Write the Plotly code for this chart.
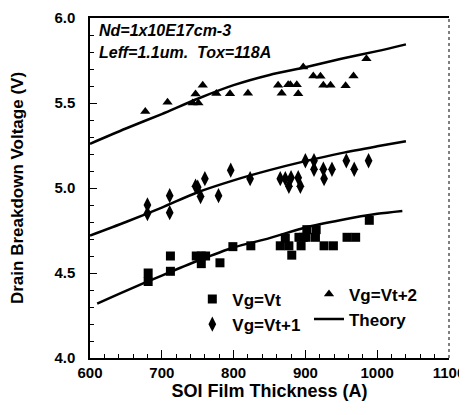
import plotly.graph_objects as go

# ---- data ----
vt_x = [681, 681, 712, 712, 748, 755, 761, 755, 781, 799, 824, 865, 872, 877, 881, 891, 894, 897, 901, 902, 914, 915, 926, 939, 958, 970, 989]
vt_y = [4.50, 4.45, 4.60, 4.51, 4.60, 4.60, 4.60, 4.555, 4.56, 4.655, 4.66, 4.66, 4.705, 4.66, 4.605, 4.71, 4.66, 4.71, 4.71, 4.755, 4.71, 4.755, 4.66, 4.66, 4.71, 4.71, 4.81]

vt1_x = [680, 680, 711, 711, 747, 750, 760, 754, 779, 796, 823, 865, 872, 877, 880, 890, 893, 900, 912, 912, 925, 926, 937, 957, 968, 988]
vt1_y = [4.90, 4.85, 4.955, 4.855, 5.01, 5.005, 5.055, 4.95, 4.955, 5.105, 5.055, 5.055, 5.055, 5.01, 5.06, 5.06, 5.01, 5.16, 5.16, 5.11, 5.11, 5.055, 5.11, 5.16, 5.11, 5.16]

vt2_x = [677, 708, 743, 751, 747, 757, 776, 795, 820, 862, 867, 876, 879, 888, 890, 897, 911, 921, 925, 935, 956, 967, 985]
vt2_y = [5.45, 5.505, 5.50, 5.50, 5.553, 5.605, 5.556, 5.554, 5.557, 5.605, 5.558, 5.608, 5.608, 5.608, 5.555, 5.712, 5.659, 5.658, 5.605, 5.604, 5.602, 5.659, 5.761]

th_x = [600, 650, 700, 750, 800, 850, 900, 950, 1000, 1040]
th_top = [5.26, 5.35, 5.435, 5.525, 5.605, 5.665, 5.71, 5.76, 5.805, 5.845]
th_mid = [4.72, 4.80, 4.885, 4.975, 5.045, 5.105, 5.158, 5.205, 5.245, 5.275]
th_bot_x = [610, 650, 700, 750, 800, 850, 900, 950, 1000, 1035]
th_bot = [4.32, 4.395, 4.485, 4.572, 4.65, 4.705, 4.768, 4.812, 4.848, 4.865]

x_ticks = [600, 700, 800, 900, 1000, 1100]
y_ticks = [4.0, 4.5, 5.0, 5.5, 6.0]

FONT = "Liberation Sans, Arial, sans-serif"
LEG_FONT = dict(family=FONT, size=17, color="black")

fig = go.Figure()
fig.add_trace(go.Scatter(x=vt_x, y=vt_y, mode="markers", name="<b>Vg=Vt</b>",
                         marker=dict(symbol="square", size=9, color="black"), legend="legend"))
fig.add_trace(go.Scatter(x=vt1_x, y=vt1_y, mode="markers", name="<b>Vg=Vt+1</b>",
                         marker=dict(symbol="diamond-tall", size=11, color="black"), legend="legend"))
fig.add_trace(go.Scatter(x=vt2_x, y=vt2_y, mode="markers", name="<b>Vg=Vt+2</b>",
                         marker=dict(symbol="triangle-up", size=9, color="black"), legend="legend2"))
fig.add_trace(go.Scatter(x=th_x, y=th_top, mode="lines", name="<b>Theory</b>",
                         line=dict(color="black", width=2.5, shape="spline", smoothing=0.8), legend="legend2"))
fig.add_trace(go.Scatter(x=th_x, y=th_mid, mode="lines", name="Theory", showlegend=False,
                         line=dict(color="black", width=2.5, shape="spline", smoothing=0.8)))
fig.add_trace(go.Scatter(x=th_bot_x, y=th_bot, mode="lines", name="Theory", showlegend=False,
                         line=dict(color="black", width=2.5, shape="spline", smoothing=0.8)))

# the page body has an 8px margin, so the figure is sized to fit the window from (8, 8)
fig.update_layout(
    width=459, height=407,
    margin=dict(l=82, r=18, t=10, b=57, autoexpand=False),
    paper_bgcolor="white", plot_bgcolor="white",
    font=dict(family=FONT, color="black"),
    legend=dict(x=0.285, y=0.225, xanchor="left", yanchor="top", bgcolor="rgba(0,0,0,0)",
                font=LEG_FONT, tracegroupgap=0),
    legend2=dict(x=0.61, y=0.24, xanchor="left", yanchor="top", bgcolor="rgba(0,0,0,0)",
                 font=LEG_FONT, tracegroupgap=0),
    xaxis=dict(range=[600, 1100], tickvals=x_ticks, ticktext=[f"<b>{v}</b>" for v in x_ticks],
               ticks="inside", ticklen=8, tickwidth=1, tickcolor="black",
               minor=dict(dtick=20, ticks="inside", ticklen=4, tickcolor="black"),
               showline=True, linecolor="black", linewidth=1.5, mirror=True,
               showgrid=False, zeroline=False, automargin=False, ticklabeloverflow="allow",
               tickfont=dict(family=FONT, size=15, color="black"),
               title=dict(text="<b>SOI Film Thickness (A)</b>", font=dict(family=FONT, size=18, color="black"),
                          standoff=4)),
    yaxis=dict(range=[4.0, 6.0], tickvals=y_ticks, ticktext=[f"<b>{v:.1f}</b>" for v in y_ticks],
               ticks="inside", ticklen=7, tickwidth=1, tickcolor="black",
               minor=dict(dtick=0.1, ticks="inside", ticklen=4, tickcolor="black"),
               showline=True, linecolor="black", linewidth=1.5,
               showgrid=False, zeroline=False, ticklabelstandoff=10, automargin=False,
               ticklabeloverflow="allow",
               tickfont=dict(family=FONT, size=15, color="black"),
               title=dict(text="<b>Drain Breakdown Voltage (V)</b>", font=dict(family=FONT, size=17, color="black"),
                          standoff=30)),
    showlegend=True,
)

fig.add_shape(type="line", xref="paper", yref="paper", x0=1, x1=1, y0=0, y1=1,
              line=dict(color="black", width=1, dash="dot"))

fig.add_annotation(text="<b><i>Nd=1x10E17cm-3</i></b>", xref="paper", yref="paper",
                   x=0.02, y=0.962, xanchor="left", yanchor="middle", showarrow=False,
                   font=dict(family=FONT, size=16, color="black"))
fig.add_annotation(text="<b><i>Leff=1.1um.&nbsp;&nbsp;Tox=118A</i></b>", xref="paper", yref="paper",
                   x=0.02, y=0.898, xanchor="left", yanchor="middle", showarrow=False,
                   font=dict(family=FONT, size=16, color="black"))

fig.write_html("out.html")
